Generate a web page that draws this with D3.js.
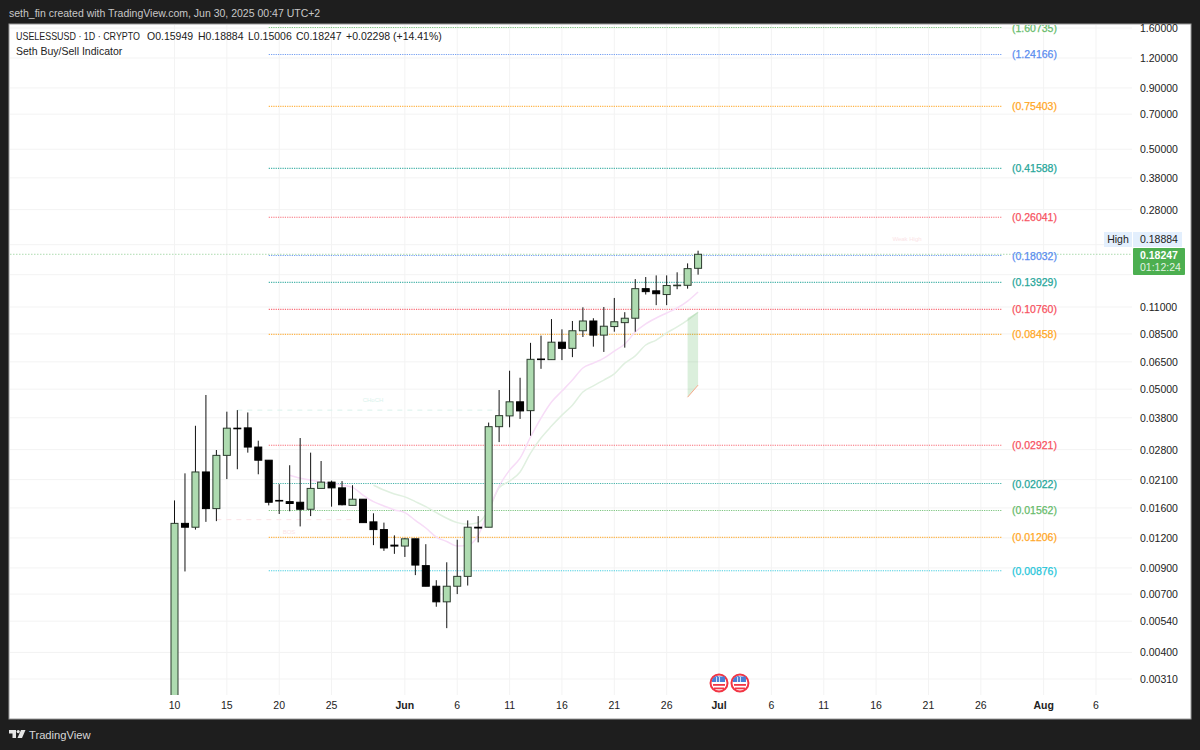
<!DOCTYPE html>
<html>
<head>
<meta charset="utf-8">
<script src="https://cdn.jsdelivr.net/npm/d3@7/dist/d3.min.js"></script>
<style>
html, body { margin: 0; padding: 0; background: #1e1e1e; overflow: hidden; }
text { font-family: "Liberation Sans", sans-serif; }
</style>
</head>
<body>
<div id="chart"></div>
<script>
// daily candles starting 10 May 2025
const startDate = "2025-05-10";
const opens  = [0.0025,0.0138,0.0133,0.0226,0.0159,0.0265,0.0344,0.0345,0.0287,0.0253,0.0172,0.0170,0.0169,0.0158,0.0193,0.0205,0.0194,0.0164,0.0174,0.0140,0.0130,0.0112,0.0111,0.0119,0.0092,0.00755,0.0065,0.00755,0.0083,0.0133,0.0133,0.0349,0.0387,0.0443,0.0407,0.0668,0.0664,0.0785,0.0740,0.0876,0.0962,0.0840,0.0912,0.0947,0.0988,0.1312,0.1285,0.1240,0.1355,0.1355,0.15949];
const highs  = [0.0172,0.0223,0.0352,0.0473,0.0279,0.0403,0.0409,0.0400,0.0305,0.0253,0.0201,0.0241,0.0313,0.0272,0.0251,0.0208,0.0207,0.0199,0.0174,0.0152,0.0139,0.0123,0.0120,0.0119,0.0113,0.0080,0.0095,0.0118,0.0142,0.0148,0.0363,0.0496,0.0597,0.0558,0.0780,0.0836,0.0980,0.0888,0.0962,0.1097,0.0988,0.1100,0.1200,0.1047,0.1438,0.1467,0.1490,0.1490,0.1535,0.1672,0.18884];
const lows   = [0.0020,0.0087,0.0130,0.0140,0.0141,0.0211,0.0232,0.0272,0.0221,0.0164,0.0151,0.0155,0.0134,0.0148,0.0193,0.0162,0.0164,0.0164,0.0139,0.0112,0.0106,0.0103,0.0100,0.0084,0.00755,0.0062,0.00505,0.0070,0.0076,0.0115,0.0133,0.0301,0.0347,0.0376,0.0320,0.0608,0.0664,0.0661,0.0680,0.0825,0.0752,0.0715,0.0868,0.0745,0.0868,0.1240,0.1120,0.1120,0.1305,0.1312,0.15006];
const closes = [0.0138,0.0133,0.0226,0.0159,0.0265,0.0344,0.0342,0.0287,0.0253,0.0169,0.0171,0.0167,0.0158,0.0193,0.0205,0.0194,0.0165,0.0174,0.0139,0.0130,0.0109,0.0111,0.0119,0.00925,0.00755,0.0065,0.00755,0.0083,0.0133,0.0132,0.0349,0.0388,0.0443,0.0406,0.0666,0.0666,0.0785,0.0740,0.0876,0.0962,0.0840,0.0915,0.0955,0.0988,0.1312,0.1275,0.1250,0.1352,0.1357,0.1590,0.18247];

// averages, null where the indicator is not drawn
const pinkLine = [null,null,null,null,null,null,null,null,null,null,null,0.0219,0.0213,0.0209,0.0205,0.0203,0.0199,0.0195,0.0181,0.0170,0.0163,0.0157,0.0153,0.0142,0.0132,0.0121,0.0116,0.0111,0.0112,0.0123,0.0157,0.0197,0.0230,0.0258,0.0316,0.0379,0.0442,0.0491,0.0546,0.0613,0.0642,0.0674,0.0721,0.0771,0.0865,0.0935,0.0990,0.1039,0.1090,0.1165,0.1271];
const greenLine = [null,null,null,null,null,null,null,null,null,null,null,null,null,null,null,null,null,null,null,0.0199,0.0190,0.0183,0.0178,0.0170,0.0162,0.0153,0.0145,0.0139,0.0137,0.0139,0.0157,0.0194,0.0207,0.0226,0.0271,0.0313,0.0351,0.0390,0.0429,0.0487,0.0516,0.0546,0.0579,0.0642,0.0688,0.0764,0.0801,0.0858,0.0909,0.0971,0.1048];

// buy/sell levels
const levelPrices = [1.60735,1.24166,0.75403,0.41588,0.26041,0.18032,0.13929,0.10760,0.08458,0.02921,0.02022,0.01562,0.01206,0.00876];
const levelColors = ["#66bb6a","#5b8def","#ffa726","#26a69a","#f7525f","#5b8def","#26a69a","#f7525f","#ffa726","#f7525f","#26a69a","#66bb6a","#ffa726","#26c6da"];
const levelStart = "2025-05-19";
const levelEnd = "2025-07-28";

// shaded box at the end of the averages
const boxDays = ["2025-06-28","2025-06-29"];
const boxTop = [0.0990,0.1048];
const boxBottom = [0.0463,0.0520];

const priceTicks = [1.6,1.2,0.9,0.7,0.5,0.38,0.28,0.2,0.15,0.11,0.085,0.065,0.05,0.038,0.028,0.021,0.016,0.012,0.009,0.007,0.0054,0.004,0.0031];
const hiddenPriceLabels = [0.2, 0.15]; // sit under the High and last price tags
const dateTickDays = ["2025-05-10","2025-05-15","2025-05-20","2025-05-25","2025-06-01","2025-06-06","2025-06-11","2025-06-16","2025-06-21","2025-06-26","2025-07-01","2025-07-06","2025-07-11","2025-07-16","2025-07-21","2025-07-26","2025-08-01","2025-08-06"];
const dateTickLabels = ["10","15","20","25","Jun","6","11","16","21","26","Jul","6","11","16","21","26","Aug","6"];
const boldTicks = ["Jun","Jul","Aug"];
const eventDays = ["2025-07-01","2025-07-03"];

const parseDay = d3.utcParse("%Y-%m-%d");
const first = parseDay(startDate);
const rows = closes.map((c, i) => ({
    date: d3.utcDay.offset(first, i),
    o: opens[i], h: highs[i], l: lows[i], c: c,
    pink: pinkLine[i], green: greenLine[i]
}));

const plot = { left: 10, right: 1132, top: 25, bottom: 695 };
const fontSize = 10.5;

const x = d3.scaleUtc()
    .domain([first, parseDay("2025-08-06")])
    .range([174.5, 1096]);
const y = d3.scaleLog()
    .domain([1.6, 0.0031])
    .range([28, 679]);

const svg = d3.select("#chart").append("svg")
    .attr("width", 1200).attr("height", 750)
    .style("display", "block");

svg.append("rect").attr("width", 1200).attr("height", 750).attr("fill", "#1e1e1e");
svg.append("rect")
    .attr("x", 9).attr("y", 24)
    .attr("width", 1182).attr("height", 695)
    .attr("fill", "#fff").attr("stroke", "#9a9a9a").attr("stroke-width", 1);

svg.append("text")
    .attr("x", 9).attr("y", 17)
    .attr("font-size", fontSize).attr("fill", "#c8c8c8")
    .text("seth_fin created with TradingView.com, Jun 30, 2025 00:47 UTC+2");

const defs = svg.append("defs");
defs.append("clipPath").attr("id", "plot-clip").append("rect")
    .attr("x", plot.left).attr("y", plot.top)
    .attr("width", plot.right - plot.left).attr("height", plot.bottom - plot.top);

// grid
svg.append("g").selectAll("line").data(priceTicks).enter().append("line")
    .attr("x1", plot.left).attr("x2", plot.right)
    .attr("y1", d => y(d)).attr("y2", d => y(d))
    .attr("stroke", "#f3f3f3");
svg.append("g").selectAll("line").data(dateTickDays).enter().append("line")
    .attr("x1", d => x(parseDay(d))).attr("x2", d => x(parseDay(d)))
    .attr("y1", plot.top).attr("y2", plot.bottom)
    .attr("stroke", "#f3f3f3");

const g = svg.append("g").attr("clip-path", "url(#plot-clip)");

// last price line
g.append("line")
    .attr("x1", plot.left).attr("x2", plot.right)
    .attr("y1", y(closes[closes.length - 1])).attr("y2", y(closes[closes.length - 1]))
    .attr("stroke", "#4caf50").attr("stroke-opacity", 0.45)
    .attr("stroke-dasharray", "1.5 1.5");

// faint structure lines and their labels
g.append("line")
    .attr("x1", x(parseDay("2025-05-16"))).attr("x2", x(parseDay("2025-06-10")))
    .attr("y1", y(0.0409)).attr("y2", y(0.0409))
    .attr("stroke", "#d9f2ec").attr("stroke-dasharray", "5 5");
g.append("line")
    .attr("x1", x(parseDay("2025-05-14"))).attr("x2", x(parseDay("2025-05-27")))
    .attr("y1", y(0.0143)).attr("y2", y(0.0143))
    .attr("stroke", "#fbe3e6").attr("stroke-dasharray", "5 5");
g.append("text").attr("x", 373).attr("y", 402)
    .attr("text-anchor", "middle").attr("font-size", 6).attr("fill", "#d9f2ec").text("CHoCH");
g.append("text").attr("x", 289).attr("y", 534)
    .attr("text-anchor", "middle").attr("font-size", 6).attr("fill", "#fbe3e6").text("BOS");
g.append("text").attr("x", 907).attr("y", 241)
    .attr("text-anchor", "middle").attr("font-size", 6).attr("fill", "#fbe3e6").text("Weak High");

// levels
const levels = levelPrices.map((p, i) => ({ p: p, color: levelColors[i] }));
g.selectAll(".level").data(levels).enter().append("line")
    .attr("class", "level")
    .attr("x1", x(parseDay(levelStart))).attr("x2", x(parseDay(levelEnd)))
    .attr("y1", d => y(d.p)).attr("y2", d => y(d.p))
    .attr("stroke", d => d.color)
    .attr("stroke-width", 1.1)
    .attr("stroke-opacity", 0.85)
    .attr("stroke-dasharray", "1.2 1.1");
g.selectAll(".level-label").data(levels).enter().append("text")
    .attr("class", "level-label")
    .attr("x", 1012).attr("y", d => y(d.p) + 4)
    .attr("font-size", fontSize)
    .attr("fill", d => d.color)
    .attr("stroke", d => d.color)
    .attr("stroke-width", 0.25)
    .text(d => "(" + d.p.toFixed(5) + ")");

// averages
const pinkPath = d3.line().defined(d => d.pink !== null).x(d => x(d.date)).y(d => y(d.pink)).curve(d3.curveMonotoneX);
const greenPath = d3.line().defined(d => d.green !== null).x(d => x(d.date)).y(d => y(d.green)).curve(d3.curveMonotoneX);
g.append("path").attr("d", greenPath(rows)).attr("fill", "none")
    .attr("stroke", "#e0f0e0").attr("stroke-width", 1.5);
g.append("path").attr("d", pinkPath(rows)).attr("fill", "none")
    .attr("stroke", "#f7dcf7").attr("stroke-width", 1.5);

// shaded box
const boxArea = d3.area()
    .x((d, i) => x(parseDay(d)))
    .y0((d, i) => y(boxBottom[i]))
    .y1((d, i) => y(boxTop[i]));
g.append("path").attr("d", boxArea(boxDays)).attr("fill", "#4caf50").attr("fill-opacity", 0.2);
g.append("line")
    .attr("x1", x(parseDay(boxDays[0]))).attr("x2", x(parseDay(boxDays[1])))
    .attr("y1", y(boxBottom[0])).attr("y2", y(boxBottom[1]))
    .attr("stroke", "#f7a98a").attr("stroke-width", 1);

// candles
const bodyW = 7;
const candles = g.selectAll(".candle").data(rows).enter().append("g").attr("class", "candle");
candles.append("line")
    .attr("x1", d => x(d.date)).attr("x2", d => x(d.date))
    .attr("y1", d => y(d.h)).attr("y2", d => y(d.l))
    .attr("stroke", "#111").attr("stroke-width", 1);
candles.append("rect")
    .attr("x", d => x(d.date) - bodyW / 2)
    .attr("width", bodyW)
    .attr("y", d => y(Math.max(d.o, d.c)))
    .attr("height", d => Math.max(0.6, Math.abs(y(d.o) - y(d.c))))
    .attr("fill", d => d.c >= d.o ? "#aedbb0" : "#000")
    .attr("stroke", d => d.c >= d.o ? "#2b3a2d" : "#000")
    .attr("stroke-width", 1);

// price axis labels
svg.append("g").selectAll("text").data(priceTicks.filter(d => !hiddenPriceLabels.includes(d))).enter().append("text")
    .attr("x", 1140).attr("y", d => y(d) + 4)
    .attr("font-size", fontSize).attr("fill", "#222")
    .text(d => d.toFixed(5));

// date axis labels
svg.append("g").selectAll("text").data(dateTickDays).enter().append("text")
    .attr("x", d => x(parseDay(d))).attr("y", 709)
    .attr("text-anchor", "middle")
    .attr("font-size", fontSize).attr("fill", "#222")
    .attr("font-weight", (d, i) => boldTicks.includes(dateTickLabels[i]) ? 700 : 400)
    .text((d, i) => dateTickLabels[i]);

// high tag
svg.append("rect").attr("x", 1104).attr("y", 232).attr("width", 28).attr("height", 15).attr("fill", "#e3effd");
svg.append("rect").attr("x", 1133).attr("y", 232).attr("width", 49).attr("height", 15).attr("fill", "#e3effd");
svg.append("text").attr("x", 1118).attr("y", 243).attr("text-anchor", "middle")
    .attr("font-size", fontSize).attr("fill", "#222").text("High");
svg.append("text").attr("x", 1140).attr("y", 243)
    .attr("font-size", fontSize).attr("fill", "#222").text(highs[highs.length - 1].toFixed(5));

// last price tag
svg.append("rect").attr("x", 1133).attr("y", 248).attr("width", 52).attr("height", 27)
    .attr("rx", 1).attr("fill", "#4caf50");
svg.append("text").attr("x", 1140).attr("y", 259)
    .attr("font-size", fontSize).attr("font-weight", 700).attr("fill", "#fff").text(closes[closes.length - 1].toFixed(5));
svg.append("text").attr("x", 1140).attr("y", 271)
    .attr("font-size", fontSize).attr("fill", "#e3f3e3").text("01:12:24");

// legend
svg.append("text").attr("x", 16).attr("y", 40)
    .attr("font-size", fontSize).attr("fill", "#222")
    .attr("textLength", 124).attr("lengthAdjust", "spacingAndGlyphs")
    .text("USELESSUSD · 1D · CRYPTO");
const ohlc = [["O0.15949", 147], ["H0.18884", 198], ["L0.15006", 248], ["C0.18247", 296], ["+0.02298 (+14.41%)", 346]];
svg.append("g").selectAll("text").data(ohlc).enter().append("text")
    .attr("x", d => d[1]).attr("y", 40)
    .attr("font-size", fontSize).attr("fill", "#222")
    .text(d => d[0]);
svg.append("text").attr("x", 16).attr("y", 55)
    .attr("font-size", fontSize).attr("fill", "#222")
    .text("Seth Buy/Sell Indicator");

// economic event flags
const flags = svg.append("g").selectAll("g").data(eventDays).enter().append("g")
    .attr("transform", d => `translate(${x(parseDay(d))},683)`);
flags.append("circle").attr("r", 8.5).attr("fill", "#fff").attr("stroke", "#f23645").attr("stroke-width", 2);
flags.append("rect").attr("x", -6).attr("y", 1).attr("width", 12).attr("height", 1.8).attr("fill", "#f23645");
flags.append("rect").attr("x", -5).attr("y", 4.5).attr("width", 10).attr("height", 1.8).attr("fill", "#f23645");
flags.append("path").attr("d", "M-7,-1V-3A7,7 0 0 1 -1,-7V-1Z").attr("fill", "#4a7fd6");
flags.append("rect").attr("x", -1).attr("y", -6.5).attr("width", 7).attr("height", 5.5).attr("fill", "#4a7fd6");
flags.append("rect").attr("x", -3).attr("y", -6).attr("width", 1).attr("height", 5).attr("fill", "#cfe0f7");
flags.append("rect").attr("x", 0).attr("y", -6).attr("width", 1).attr("height", 5).attr("fill", "#cfe0f7");

// TradingView mark
const logo = svg.append("g").attr("fill", "#e6e6e6");
logo.append("path").attr("d", "M9,730 h7 v8 h-3.5 v-4.5 h-3.5 Z");
logo.append("circle").attr("cx", 18.2).attr("cy", 731.6).attr("r", 1.6);
logo.append("path").attr("d", "M21,730 h4.5 l-3.5,8 h-4.5 Z");
svg.append("text").attr("x", 29).attr("y", 739)
    .attr("font-size", 11.2).attr("fill", "#d8d8d8").text("TradingView");
</script>
</body>
</html>
